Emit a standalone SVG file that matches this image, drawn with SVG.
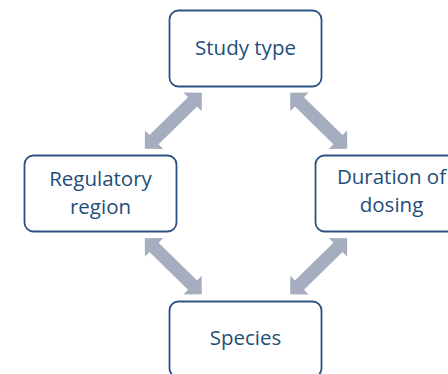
<svg xmlns="http://www.w3.org/2000/svg" xmlns:xlink="http://www.w3.org/1999/xlink" width="448" height="374" viewBox="0 0 448 374">
<style>
.box{fill:#ffffff;stroke:#2B5283;stroke-width:1.8}
.lbl{font-family:"Open Sans","Noto Sans",sans-serif;font-size:20.5px;fill:#1F4E79;text-anchor:middle}
.arr{fill:#A6ADBE}
</style>
<defs>
<polygon id="dbl" points="-40,0 -27,-13 -27,-6.5 27,-6.5 27,-13 40,0 27,13 27,6.5 -27,6.5 -27,13"/>
</defs>
<rect width="448" height="374" fill="#ffffff"/>
<g id="connectors" class="arr">
<use xlink:href="#dbl" transform="translate(173.3,120.8) rotate(-44.5)"/>
<use xlink:href="#dbl" transform="translate(318.7,120.8) rotate(44.5)"/>
<use xlink:href="#dbl" transform="translate(173.3,266.2) rotate(44.5)"/>
<use xlink:href="#dbl" transform="translate(318.7,266.2) rotate(-44.5)"/>
</g>
<g id="study-type">
<rect class="box" x="169.5" y="10.5" width="152" height="76" rx="9"/>
<text class="lbl" x="245.5" y="55">Study type</text>
</g>
<g id="regulatory-region">
<rect class="box" x="24.5" y="155.5" width="152" height="76" rx="9"/>
<text class="lbl" x="100.5" y="185.5">Regulatory</text>
<text class="lbl" x="100.5" y="213.5">region</text>
</g>
<g id="duration-of-dosing">
<rect class="box" x="315.5" y="155.5" width="152" height="76" rx="9"/>
<text class="lbl" x="391.5" y="184">Duration of</text>
<text class="lbl" x="391.5" y="212">dosing</text>
</g>
<g id="species">
<rect class="box" x="169.5" y="301.5" width="152" height="76" rx="9"/>
<text class="lbl" x="245.5" y="345">Species</text>
</g>
</svg>
